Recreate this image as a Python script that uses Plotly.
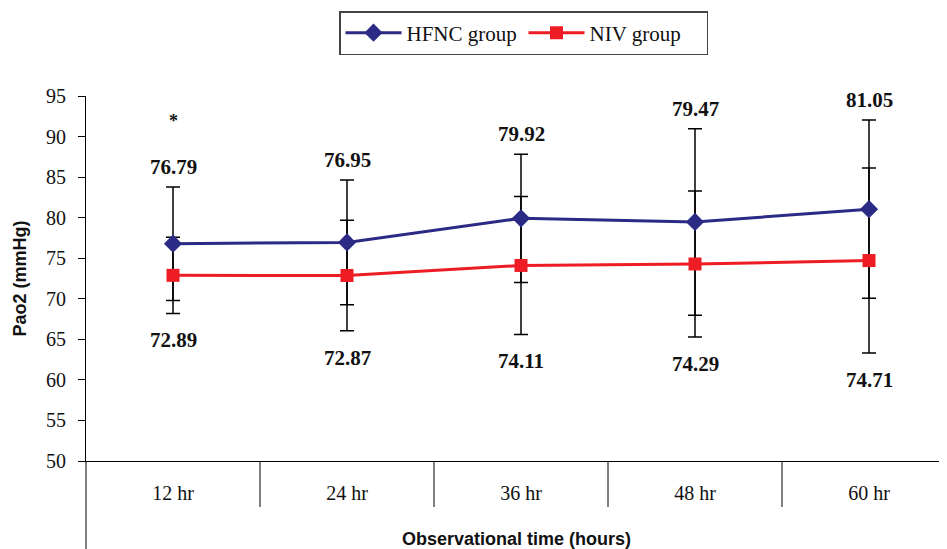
import plotly.graph_objects as go

categories = ["12 hr", "24 hr", "36 hr", "48 hr", "60 hr"]
hfnc_mean = [76.79, 76.95, 79.92, 79.47, 81.05]
hfnc_sd = [7.0, 7.7, 7.9, 11.5, 11.0]
niv_mean = [72.89, 72.87, 74.11, 74.29, 74.71]
niv_sd = [4.7, 6.8, 8.5, 9.0, 11.4]
significance = ["*", "", "", "", ""]
y_ticks = [50, 55, 60, 65, 70, 75, 80, 85, 90, 95]

NAVY = "#2B2B85"
RED = "#EE1C25"
SERIF = "Liberation Serif, Times New Roman, serif"
SANS = "Liberation Sans, Arial, sans-serif"

fig = go.Figure()

# error bars first (underneath markers)
for mean, sd in ((hfnc_mean, hfnc_sd), (niv_mean, niv_sd)):
    fig.add_trace(go.Scatter(
        x=categories, y=mean, mode="markers",
        marker=dict(size=1, color="rgba(0,0,0,0)"),
        error_y=dict(type="data", array=sd, symmetric=True,
                     color="black", thickness=1.5, width=7),
        showlegend=False, hoverinfo="skip"))

fig.add_trace(go.Scatter(
    x=categories, y=hfnc_mean, mode="lines+markers", name="HFNC group",
    line=dict(color=NAVY, width=3),
    marker=dict(symbol="diamond", size=14, color=NAVY)))
fig.add_trace(go.Scatter(
    x=categories, y=niv_mean, mode="lines+markers", name="NIV group",
    line=dict(color=RED, width=3),
    marker=dict(symbol="square", size=13, color=RED)))

annotations = []
for c, m, s, sig in zip(categories, hfnc_mean, hfnc_sd, significance):
    annotations.append(dict(x=c, y=m + s, xref="x", yref="y", text=f"{m:.2f}",
                            showarrow=False, yanchor="bottom", yshift=6,
                            font=dict(family=SERIF, size=21, color="#111", weight="bold")))
    if sig:
        annotations.append(dict(x=c, y=m + s, xref="x", yref="y", text=sig,
                                showarrow=False, yanchor="bottom", yshift=54,
                                font=dict(family=SERIF, size=18, color="#111", weight="bold")))
for c, m, s in zip(categories, niv_mean, niv_sd):
    annotations.append(dict(x=c, y=m - s, xref="x", yref="y", text=f"{m:.2f}",
                            showarrow=False, yanchor="top", yshift=-13,
                            font=dict(family=SERIF, size=21, color="#111", weight="bold")))

plot_h = 365
shapes = []
for i in range(len(categories) - 1):
    shapes.append(dict(type="line", xref="x", yref="paper", x0=i + 0.5, x1=i + 0.5,
                       y0=0, y1=-46 / plot_h, line=dict(color="black", width=1)))
shapes.append(dict(type="line", xref="paper", yref="paper", x0=0, x1=0,
                   y0=0, y1=-95 / plot_h, line=dict(color="black", width=1)))

# page body has an 8px margin: figure is sized/offset to compensate
fig.update_layout(
    width=939, height=541,
    margin=dict(l=78, r=0, t=88, b=88, autoexpand=False),
    paper_bgcolor="white", plot_bgcolor="white",
    showlegend=True,
    legend=dict(orientation="h", x=(339 - 86) / 861, y=(461 - 11) / plot_h,
                xanchor="left", yanchor="top",
                bordercolor="#444", borderwidth=1.5,
                font=dict(family=SERIF, size=21, color="#111"),
                itemwidth=56, entrywidth=112),
    xaxis=dict(type="category", categoryorder="array", categoryarray=categories,
               range=[-0.5, -0.5 + 861 / 174],
               showline=True, linecolor="black", linewidth=1,
               ticks="", showgrid=False, zeroline=False,
               tickfont=dict(family=SERIF, size=20, color="#111"),
               ticklabelstandoff=14,
               title=dict(text="Observational time (hours)", standoff=29,
                          font=dict(family=SANS, size=18, color="#111", weight="bold"))),
    yaxis=dict(range=[50, 95], tickvals=y_ticks,
               showline=True, linecolor="black", linewidth=1,
               ticks="outside", ticklen=7, tickcolor="black", tickwidth=1,
               showgrid=False, zeroline=False,
               tickfont=dict(family=SERIF, size=20, color="#111"),
               ticklabelstandoff=8,
               title=dict(text="Pao2 (mmHg)", standoff=14,
                          font=dict(family=SANS, size=18, color="#111", weight="bold"))),
    annotations=annotations,
    shapes=shapes,
)

fig.write_html("out.html")
